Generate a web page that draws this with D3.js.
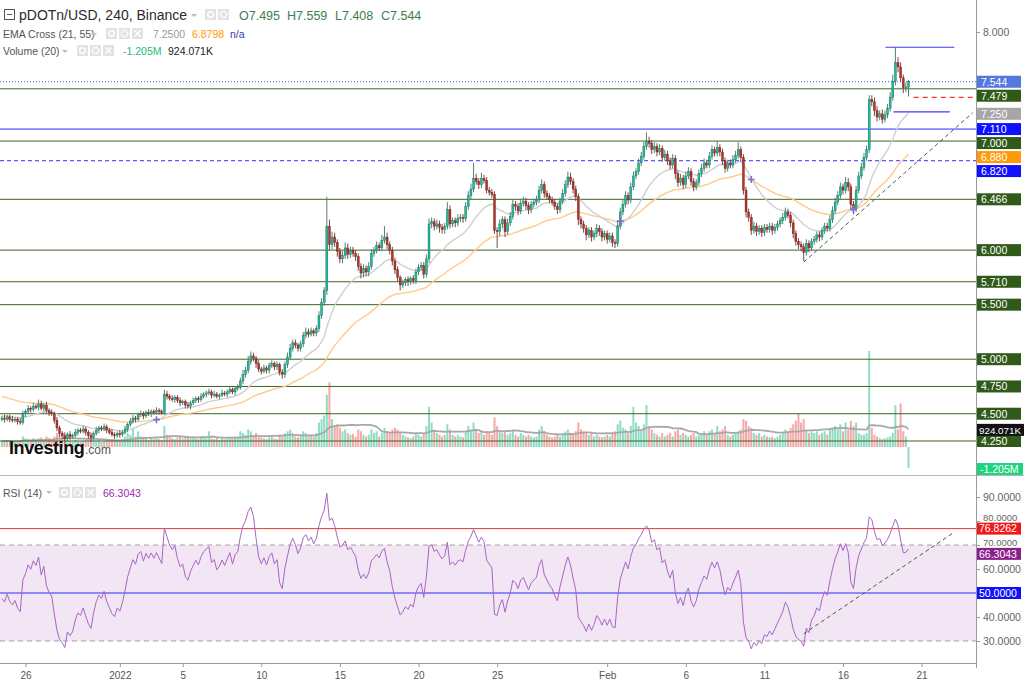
<!DOCTYPE html>
<html><head><meta charset="utf-8">
<script src="https://cdn.jsdelivr.net/npm/d3@7"></script>
<style>
body{margin:0;background:#fff;}
svg{display:block;font-family:"Liberation Sans",Arial,sans-serif;}
</style></head><body>
<svg id="c" width="1024" height="681"></svg>
<script>
// ---------------- DATA (4h candles, pDOTn/USD, Binance) ----------------
const firstCandleUTC = [2021, 11, 24, 12]; // Dec 24 2021 12:00
const firstOpen = 4.45;
const closes = [
4.46,4.45,4.47,4.45,4.44,4.45,4.43,4.42,4.50,4.52,
4.55,4.54,4.57,4.56,4.59,4.55,4.58,4.53,4.51,4.50,
4.44,4.37,4.32,4.30,4.27,4.31,4.29,4.30,4.33,4.35,
4.34,4.36,4.33,4.30,4.28,4.32,4.35,4.37,4.36,4.38,
4.35,4.33,4.31,4.30,4.32,4.31,4.33,4.36,4.40,4.43,
4.46,4.45,4.49,4.50,4.48,4.51,4.50,4.52,4.51,4.53,
4.52,4.51,4.68,4.66,4.64,4.63,4.65,4.62,4.60,4.61,
4.58,4.57,4.60,4.62,4.64,4.63,4.66,4.68,4.69,4.70,
4.67,4.68,4.66,4.67,4.69,4.68,4.70,4.72,4.70,4.73,
4.74,4.80,4.86,4.90,4.98,5.03,5.01,4.96,4.91,4.89,
4.92,4.90,4.94,4.96,4.93,4.95,4.88,4.86,4.95,5.02,
5.10,5.15,5.13,5.10,5.14,5.22,5.25,5.23,5.26,5.24,
5.28,5.40,5.52,5.63,6.22,6.05,6.12,6.07,5.99,5.92,
5.95,6.02,5.96,6.00,5.97,5.94,5.85,5.79,5.83,5.80,
5.85,5.97,6.00,6.04,6.02,6.09,6.12,6.05,6.00,5.90,
5.82,5.75,5.68,5.70,5.73,5.71,5.74,5.72,5.80,5.84,
5.86,5.78,5.92,6.24,6.26,6.22,6.24,6.21,6.19,6.22,
6.37,6.24,6.27,6.25,6.29,6.30,6.29,6.40,6.50,6.56,
6.66,6.63,6.60,6.66,6.64,6.55,6.53,6.51,6.18,6.17,
6.24,6.28,6.17,6.25,6.31,6.42,6.40,6.36,6.43,6.45,
6.41,6.37,6.42,6.44,6.46,6.55,6.60,6.52,6.49,6.46,
6.44,6.40,6.37,6.45,6.52,6.60,6.67,6.63,6.56,6.49,
6.28,6.24,6.20,6.14,6.18,6.12,6.15,6.20,6.17,6.12,
6.15,6.10,6.13,6.07,6.06,6.22,6.35,6.42,6.50,6.46,
6.58,6.68,6.72,6.80,6.86,6.95,7.00,6.98,6.92,6.95,
6.90,6.93,6.85,6.88,6.82,6.78,6.84,6.70,6.62,6.66,
6.60,6.68,6.72,6.63,6.58,6.62,6.70,6.75,6.80,6.78,
6.86,6.92,6.89,6.94,6.90,6.82,6.75,6.80,6.78,6.83,
6.87,6.92,6.85,6.55,6.35,6.30,6.18,6.22,6.17,6.20,
6.16,6.21,6.19,6.22,6.18,6.21,6.24,6.27,6.30,6.35,
6.32,6.25,6.15,6.08,6.05,6.03,5.98,6.06,6.02,6.08,
6.10,6.14,6.12,6.18,6.22,6.20,6.28,6.36,6.44,6.50,
6.58,6.55,6.62,6.58,6.42,6.38,6.55,6.68,6.76,6.85,
6.92,7.38,7.36,7.28,7.22,7.25,7.20,7.24,7.30,7.40,
7.55,7.72,7.68,7.58,7.49,7.495,7.544];
// upper / lower wick length beyond the body, in hundredths
const wickUp = [
2,3,2,2,3,2,2,3,3,2, 3,2,3,2,4,3,2,3,2,3, 2,3,2,2,3,2,3,2,3,2, 2,3,2,2,3,2,3,2,2,3,
2,2,3,2,2,3,2,3,2,3, 3,2,2,3,2,2,3,2,2,3, 2,2,4,3,2,3,2,2,3,2, 2,3,2,3,2,2,3,2,2,3,
2,3,2,2,3,2,2,3,2,2, 3,3,4,3,5,4,3,2,3,2, 3,2,3,3,2,3,2,3,3,4, 4,3,3,2,3,3,4,3,3,2,
3,4,4,3,27,6,5,4,3,3, 4,5,4,3,3,3,3,3,4,3, 4,4,3,4,3,5,10,4,3,3, 3,3,2,3,2,3,2,3,3,3,
3,3,4,5,4,3,4,3,3,3, 7,4,3,3,4,3,3,4,4,5, 14,4,3,5,3,3,3,3,3,3, 4,3,3,4,4,5,3,3,4,4,
3,3,3,3,4,4,5,3,3,3, 3,3,3,3,4,4,5,4,3,3, 3,3,3,3,3,3,3,4,3,3, 3,3,3,3,3,4,4,4,4,3,
4,4,3,4,4,4,8,4,3,4, 3,4,3,4,3,3,4,3,3,4, 3,4,4,3,3,3,4,4,4,3, 4,4,3,6,3,3,3,3,3,4,
4,7,3,3,3,3,3,4,3,3, 3,3,3,3,3,3,3,3,4,4, 3,3,3,3,3,3,3,4,3,3, 3,3,3,3,3,3,4,4,4,4,
4,3,5,4,3,3,4,4,4,4, 4,4,4,4,4,3,4,4,4,5, 6,14,5,4,3,4,1.5];
const wickDown = [
2,3,2,3,2,2,3,2,2,3, 2,3,2,2,3,2,3,2,3,2, 3,3,3,3,4,2,3,2,2,3, 2,2,3,3,4,2,2,3,2,2,
3,2,2,3,2,3,2,2,3,2, 2,3,2,2,3,2,2,3,2,2, 3,2,2,3,2,2,3,2,3,2, 3,2,3,2,2,3,2,2,3,2,
3,2,2,3,2,2,3,2,2,3, 2,2,3,3,3,3,3,4,3,3, 2,3,3,2,3,3,3,4,3,3, 3,3,3,3,3,3,3,3,2,3,
3,3,3,3,4,5,4,4,5,4, 4,3,4,3,3,4,4,5,4,4, 4,3,3,3,3,3,3,4,4,4, 4,4,5,3,3,4,3,3,3,3,
3,4,3,4,4,4,3,5,4,4, 3,4,3,4,3,3,4,3,3,3, 3,3,4,3,3,3,3,3,3,15, 4,4,5,3,3,3,4,4,3,3,
4,4,3,3,3,3,3,4,3,3, 3,3,4,3,3,3,3,3,4,4, 5,4,4,5,3,4,3,3,4,4, 3,4,3,4,4,3,3,3,3,4,
3,3,3,3,3,3,3,4,4,3, 4,3,4,3,4,4,3,5,4,3, 4,3,3,4,4,3,3,3,3,3, 3,3,3,3,4,4,4,3,3,3,
3,3,4,4,5,4,4,3,4,3, 4,3,3,3,4,3,3,3,3,3, 3,4,4,4,4,4,8,3,4,3, 3,3,4,3,3,3,3,3,3,3,
3,4,3,4,5,5,3,3,3,3, 3,3,4,5,4,3,4,3,3,3, 3,4,5,4,5,4,8.7];
// volume per candle, millions
const volumes = [
0.35,0.3,0.4,0.3,0.25,0.3,0.35,0.4,0.6,0.5, 0.45,0.35,0.5,0.4,0.5,0.55,0.4,0.6,0.5,0.45,
0.6,0.8,0.7,0.5,0.55,0.4,0.35,0.3,0.4,0.35, 0.3,0.35,0.4,0.45,0.5,0.4,0.35,0.4,0.3,0.35,
0.4,0.35,0.45,0.4,0.35,0.3,0.45,0.6,0.8,0.7, 1.1,0.6,0.9,0.6,0.5,0.55,0.4,0.5,0.45,0.5,
0.45,0.4,1.2,0.7,0.6,0.5,0.45,0.55,0.6,0.5, 0.6,0.55,0.5,0.6,0.5,0.45,0.55,0.6,0.5,0.9,
0.5,0.45,0.55,0.4,0.5,0.45,0.5,0.55,0.45,0.6, 0.6,0.9,0.8,0.7,1.0,0.9,0.7,0.8,0.6,0.55,
0.5,0.45,0.55,0.6,0.5,0.45,0.7,0.6,0.8,0.9, 1.0,0.8,0.6,0.55,0.7,0.9,0.8,0.6,0.7,0.6,
0.8,1.4,1.6,1.8,3.0,3.7,1.6,1.2,1.3,1.1, 0.9,1.0,0.8,0.7,0.75,0.6,1.0,0.9,0.7,0.6,
0.7,1.0,0.8,0.9,0.6,0.8,1.1,0.9,0.8,1.0, 1.1,1.0,0.8,0.7,0.6,0.55,0.5,0.6,0.8,0.7,
0.6,0.8,1.2,2.3,1.4,1.0,0.8,0.7,0.6,0.7, 1.3,1.0,0.7,0.6,0.7,0.6,0.55,0.9,1.2,1.0,
1.4,1.0,0.8,0.9,0.7,0.9,0.8,0.7,1.7,1.2, 0.9,0.8,0.9,0.7,0.8,1.0,0.7,0.6,0.8,0.7,
0.6,0.7,0.6,0.55,0.6,1.0,1.2,0.9,0.7,0.6, 0.55,0.6,0.7,0.6,0.8,0.9,1.0,0.8,0.7,0.9,
1.4,1.0,0.9,0.8,0.7,0.8,0.6,0.7,0.6,0.55, 0.6,0.7,0.6,0.8,0.9,1.3,1.5,1.1,1.0,0.8,
1.2,2.3,1.4,1.2,1.0,1.3,2.4,1.2,1.0,0.8, 0.7,0.6,0.8,0.6,0.7,0.8,0.6,0.9,1.0,0.7,
0.8,0.7,0.6,0.7,0.8,0.6,0.7,0.8,0.9,0.7, 0.9,1.0,0.8,1.2,0.9,1.0,1.2,0.7,0.6,0.7,
0.8,0.9,1.0,1.6,1.5,1.2,1.1,0.8,0.7,0.8, 0.6,0.7,0.6,0.55,0.6,0.5,0.6,0.7,0.8,1.0,
0.9,1.1,1.3,1.5,1.9,1.4,1.6,1.0,0.8,0.9, 0.8,0.9,0.7,0.8,0.9,0.7,1.0,1.1,1.2,1.0,
1.3,0.9,1.4,1.0,1.5,1.2,1.4,0.8,0.7,0.7, 0.8,5.5,1.1,0.7,0.6,0.5,0.45,0.5,0.55,0.6,
0.8,2.4,1.0,2.5,0.9,0.6,-1.205];
const emaSeed21 = 4.48, emaSeed55 = 4.66;      // indicator values at the first visible candle
const rsiSeedGain = 0.012, rsiSeedLoss = 0.014;
const emaCrossIdx = [59, 236, 286, 325];
const greenLevels = [7.479, 7.000, 6.466, 6.000, 5.710, 5.500, 5.000, 4.750, 4.500, 4.250];
const blueLevel = 7.110, blueDashLevel = 6.820, lastPrice = 7.544;
const priceTicks = [8.0, 7.5, 7.0, 6.5, 6.0, 5.5, 5.0, 4.5];
const rsiTicks = [90, 80, 70, 60, 50, 40, 30];
const rsiUpper = 70, rsiLower = 30, rsiMid = 50, rsiLevelRed = 76.8262, rsiLast = 66.3043;
const ema21Last = 7.25, ema55Last = 6.88, volMaLast = 0.924071, volLast = -1.205;
const xTickDates = [[2021,11,26],[2022,0,1],[2022,0,5],[2022,0,10],[2022,0,15],[2022,0,20],[2022,0,25],[2022,1,1],[2022,1,6],[2022,1,11],[2022,1,16],[2022,1,21]];
const xTickLabels = ["26","2022","5","10","15","20","25","Feb","6","11","16","21"];
// drawn lines: [date(UTC parts), value]
const priceTrend = [[[2022,1,13,12], 5.89], [[2022,1,24,6], 7.26]];
const rsiTrend = [[[2022,1,13,12], 33], [[2022,1,23,0], 75]];
const topLine = [[[2022,1,18,17], 7.86], [[2022,1,23,2], 7.86]];
const midLine = [[[2022,1,19,5], 7.267], [[2022,1,22,19], 7.267]];
const redDash = [[[2022,1,20,12], 7.40], [[2022,1,25,0], 7.40]];

// ---------------- SETUP ----------------
const svg = d3.select("#c");
const R = 976;            // right edge of plot area
const PANE_BOTTOM = 475;
const U = a => new Date(Date.UTC(a[0], a[1], a[2], a[3] || 0));
const n = closes.length;
const t0 = U(firstCandleUTC).getTime();
const bars = d3.range(n).map(i => {
  const o = i === 0 ? firstOpen : closes[i - 1];
  const c = closes[i];
  return {i, date: new Date(t0 + i * 4 * 3600e3), o, c,
    h: Math.max(o, c) + (wickUp[i] || 0) / 100,
    l: Math.min(o, c) - (wickDown[i] || 0) / 100,
    v: volumes[i] || 0, up: c >= o};
});
const x = d3.scaleUtc().domain([U([2021,11,26]), U([2022,1,21])]).range([25.5, 921.6]);
const y = d3.scaleLinear().domain([4.25, 8]).range([441, 32]);
const yv = d3.scaleLinear().domain([0, 5.5]).range([447, 351]);
const yr = d3.scaleLinear().domain([30, 90]).range([641, 497]);

// indicators
let e21 = emaSeed21, e55 = emaSeed55;
const a21 = 2 / 22, a55 = 2 / 56;
bars.forEach((b, i) => {
  if (i > 0) { e21 = a21 * b.c + (1 - a21) * e21; e55 = a55 * b.c + (1 - a55) * e55; }
  b.e21 = e21; b.e55 = e55;
});
let ag = rsiSeedGain, al = rsiSeedLoss;
bars.forEach(b => {
  const ch = b.c - b.o;
  ag = (ag * 13 + Math.max(ch, 0)) / 14; al = (al * 13 + Math.max(-ch, 0)) / 14;
  b.rsi = 100 - 100 / (1 + ag / al);
});
bars.forEach((b, i) => { b.vma = d3.mean(bars.slice(Math.max(0, i - 19), i + 1), d => d.v); });

const defs = svg.append("defs");
defs.append("clipPath").attr("id", "mainClip").append("rect").attr("x", 0).attr("y", 0).attr("width", R).attr("height", PANE_BOTTOM);
defs.append("clipPath").attr("id", "rsiClip").append("rect").attr("x", 0).attr("y", PANE_BOTTOM + 1).attr("width", R).attr("height", 663 - PANE_BOTTOM - 1);
defs.append("clipPath").attr("id", "volLblClip").append("rect").attr("x", R).attr("y", 0).attr("width", 60).attr("height", PANE_BOTTOM);

// ---------------- MAIN PANE ----------------
const main = svg.append("g").attr("clip-path", "url(#mainClip)");
// volume
main.append("g").selectAll("rect").data(bars).join("rect")
  .attr("x", d => x(d.date) - 1).attr("width", 2)
  .attr("y", d => Math.min(yv(d.v), yv(0))).attr("height", d => Math.abs(yv(d.v) - yv(0)))
  .attr("fill", d => d.up ? "#8fdcc2" : "#f5a8a8");
main.append("path").datum(bars)
  .attr("d", d3.line().x(d => x(d.date)).y(d => yv(d.vma)))
  .attr("fill", "none").attr("stroke", "#a8a8a8").attr("stroke-width", 1.8);
// levels
main.append("g").selectAll("line").data(greenLevels).join("line")
  .attr("x1", 0).attr("x2", R).attr("y1", d => y(d)).attr("y2", d => y(d))
  .attr("stroke", "#3b6325").attr("stroke-width", 1);
main.append("line").attr("x1", 0).attr("x2", R).attr("y1", y(blueLevel)).attr("y2", y(blueLevel))
  .attr("stroke", "#2b2bff").attr("stroke-width", 1);
main.append("line").attr("x1", 0).attr("x2", R).attr("y1", y(blueDashLevel)).attr("y2", y(blueDashLevel))
  .attr("stroke", "#5a5aff").attr("stroke-width", 1.2).attr("stroke-dasharray", "4,3");
main.append("line").attr("x1", 0).attr("x2", R).attr("y1", y(lastPrice)).attr("y2", y(lastPrice))
  .attr("stroke", "#3a55b0").attr("stroke-width", 1).attr("stroke-dasharray", "1,2");
// EMAs
main.append("path").datum(bars).attr("d", d3.line().x(d => x(d.date)).y(d => y(d.e55)))
  .attr("fill", "none").attr("stroke", "#ffc98a").attr("stroke-width", 1.4);
main.append("path").datum(bars).attr("d", d3.line().x(d => x(d.date)).y(d => y(d.e21)))
  .attr("fill", "none").attr("stroke", "#cfcfcf").attr("stroke-width", 1.4);
// candles
const cg = main.append("g");
cg.selectAll("line").data(bars).join("line")
  .attr("x1", d => x(d.date)).attr("x2", d => x(d.date))
  .attr("y1", d => y(d.h)).attr("y2", d => y(d.l))
  .attr("stroke", d => d.up ? "#56806f" : "#7a4a44").attr("stroke-width", 1);
cg.selectAll("rect").data(bars).join("rect")
  .attr("x", d => x(d.date) - 1).attr("width", 2)
  .attr("y", d => y(Math.max(d.o, d.c)))
  .attr("height", d => Math.max(1, Math.abs(y(d.o) - y(d.c))))
  .attr("fill", d => d.up ? "#22b89c" : "#b3332c")
  .attr("stroke", d => d.up ? "#1d6b58" : "#6e2420").attr("stroke-width", 0.4);
// cross markers
main.append("g").selectAll("path").data(emaCrossIdx.map(i => bars[i])).join("path")
  .attr("d", d => { const cx = x(d.date), cy = y(d.e55); return `M${cx-3.5},${cy}H${cx+3.5}M${cx},${cy-3.5}V${cy+3.5}`; })
  .attr("stroke", "#7b6fd6").attr("stroke-width", 1.6);
// drawn lines
const seg = (g, pts, yy) => g.append("line")
  .attr("x1", x(U(pts[0][0]))).attr("y1", yy(pts[0][1])).attr("x2", x(U(pts[1][0]))).attr("y2", yy(pts[1][1]));
seg(main, priceTrend, y).attr("stroke", "#555").attr("stroke-width", 1).attr("stroke-dasharray", "4,3");
seg(main, topLine, y).attr("stroke", "#3a3aff").attr("stroke-width", 1.2);
seg(main, midLine, y).attr("stroke", "#3a3aff").attr("stroke-width", 1.2);
seg(main, redDash, y).attr("stroke", "#ff3030").attr("stroke-width", 1.2).attr("stroke-dasharray", "5,4");

// Investing.com logo
svg.append("text").attr("x", 9).attr("y", 454).attr("font-size", 18).attr("font-weight", "bold")
  .attr("fill", "#111").attr("letter-spacing", -0.4).text("Investing");
svg.append("text").attr("x", 85).attr("y", 454).attr("font-size", 12).attr("fill", "#555").text(".com");

// ---------------- RSI PANE ----------------
const rp = svg.append("g").attr("clip-path", "url(#rsiClip)");
rp.append("rect").attr("x", 0).attr("width", R).attr("y", yr(rsiUpper)).attr("height", yr(rsiLower) - yr(rsiUpper))
  .attr("fill", "#f2e6f5");
[rsiUpper, rsiLower].forEach(v => rp.append("line").attr("x1", 0).attr("x2", R).attr("y1", yr(v)).attr("y2", yr(v))
  .attr("stroke", "#a0a0a0").attr("stroke-dasharray", "5,4"));
rp.append("line").attr("x1", 0).attr("x2", R).attr("y1", yr(rsiMid)).attr("y2", yr(rsiMid)).attr("stroke", "#2b2bff");
rp.append("line").attr("x1", 0).attr("x2", R).attr("y1", yr(rsiLevelRed)).attr("y2", yr(rsiLevelRed)).attr("stroke", "#e53935");
rp.append("path").datum(bars).attr("d", d3.line().x(d => x(d.date)).y(d => yr(d.rsi)))
  .attr("fill", "none").attr("stroke", "#a865c4").attr("stroke-width", 1);
seg(rp, rsiTrend, yr).attr("stroke", "#555").attr("stroke-width", 1).attr("stroke-dasharray", "4,3");

// ---------------- FRAME / AXES ----------------
svg.append("line").attr("x1", 0).attr("x2", 1024).attr("y1", PANE_BOTTOM + 0.5).attr("y2", PANE_BOTTOM + 0.5).attr("stroke", "#b8b8b8");
svg.append("line").attr("x1", 0).attr("x2", R).attr("y1", 663.5).attr("y2", 663.5).attr("stroke", "#9a9a9a");
svg.append("line").attr("x1", R + 0.5).attr("x2", R + 0.5).attr("y1", 0).attr("y2", 668).attr("stroke", "#9a9a9a");

// value tags (main pane), laid out so they do not overlap, like the platform does
const TAG_H = 12, TAG_GAP = 14;
const mainTags = [
  ...greenLevels.map(v => ({v, txt: d3.format(".3f")(v), bg: "#2f5a1a"})),
  {v: blueDashLevel, txt: "6.820", bg: "#1010ff"},
  {v: ema55Last, txt: "6.880", bg: "#ff9a0a"},
  {v: blueLevel, txt: "7.110", bg: "#1010ff"},
  {v: ema21Last, txt: "7.250", bg: "#a6a6a6"},
  {v: lastPrice, txt: "7.544", bg: "#5577e0"}
].map(t => ({...t, y: y(t.v)})).sort((a, b) => a.y - b.y);
for (let k = 1; k < mainTags.length; k++) {
  if (mainTags[k].y < mainTags[k - 1].y + TAG_GAP) mainTags[k].y = mainTags[k - 1].y + TAG_GAP;
}
const rsiTags = [
  {y: yr(rsiLevelRed), txt: rsiLevelRed.toFixed(4), bg: "#f01818"},
  {y: yr(rsiLast), txt: rsiLast.toFixed(4), bg: "#8a1f8a"},
  {y: yr(rsiMid), txt: rsiMid.toFixed(4), bg: "#1010ff"}
];

// axis ticks; tick texts hidden where a value tag sits on them
const yAxis = d3.axisRight(y).tickValues(priceTicks).tickSize(4).tickFormat(d3.format(".3f"));
const ya = svg.append("g").attr("transform", `translate(${R},0)`).call(yAxis);
ya.selectAll(".tick text").filter(d => mainTags.some(t => Math.abs(t.y - y(d)) < 10)).remove();
const ra = svg.append("g").attr("transform", `translate(${R},0)`).call(d3.axisRight(yr).tickValues(rsiTicks).tickSize(4).tickFormat(d3.format(".4f")));
ra.selectAll(".tick text").filter(d => rsiTags.some(t => Math.abs(t.y - yr(d)) < 5)).remove();
[ya, ra].forEach(g => {
  g.select(".domain").remove();
  g.selectAll("line").attr("stroke", "#999");
  g.selectAll("text").attr("font-size", 10.5).attr("fill", "#666").attr("font-family", "Liberation Sans, Arial, sans-serif");
});
// RSI tick texts that sit just above a tag are lifted a little so they stay readable
ra.selectAll(".tick text").each(function (d) {
  const t = rsiTags.find(t => t.y - yr(d) > 0 && t.y - yr(d) < 14);
  if (t) {
    const base = t.y - TAG_H / 2 - 2.5 - yr(d);   // baseline just above the tag
    d3.select(this).attr("dy", null).attr("y", base).attr("font-size", 9.5);
  }
});
const xa = svg.append("g").attr("transform", "translate(0,663)")
  .call(d3.axisBottom(x).tickValues(xTickDates.map(U)).tickSize(4).tickFormat((d, i) => xTickLabels[i]));
xa.select(".domain").remove();
xa.selectAll("line").attr("stroke", "#999");
xa.selectAll("text").attr("font-size", 10).attr("fill", "#555").attr("dy", "0.9em")
  .attr("font-family", "Liberation Sans Narrow, Liberation Sans, Arial, sans-serif");

function tag(parent, yy, txt, bg, fg, w, fs, tx) {
  parent.append("rect").attr("x", R + 1).attr("y", yy - TAG_H / 2).attr("width", w || 44).attr("height", TAG_H).attr("fill", bg);
  parent.append("text").attr("x", R + (tx || 5)).attr("y", yy + 3.8).attr("font-size", fs || 10.5).attr("fill", fg || "#fff").text(txt);
}
mainTags.forEach(t => tag(svg, t.y, t.txt, t.bg));
rsiTags.forEach(t => tag(svg, t.y, t.txt, t.bg, "#fff", 44, 10.5, 3));
tag(svg, yv(volMaLast) - 1, "924.071K", "#111", "#fff", 47, 9.8, 3);
const vl = svg.append("g").attr("clip-path", "url(#volLblClip)");
tag(vl, 469, "-1.205M", "#1ed47e", "#fff", 46, 10.5, 4);

// ---------------- LEGENDS ----------------
function icons(x0, yTop, count) {
  for (let k = 0; k < count; k++) {
    const gx = x0 + k * 13;
    svg.append("rect").attr("x", gx).attr("y", yTop).attr("width", 11).attr("height", 11).attr("fill", "#e2e2e2");
    const cx = gx + 5.5, cy = yTop + 5.5;
    if (k === 0) svg.append("circle").attr("cx", cx).attr("cy", cy).attr("r", 2.8).attr("fill", "none").attr("stroke", "#fff").attr("stroke-width", 1.4);
    else if (k === 1) svg.append("circle").attr("cx", cx).attr("cy", cy).attr("r", 3.2).attr("fill", "none").attr("stroke", "#fff").attr("stroke-width", 2).attr("stroke-dasharray", "1.6,0.9");
    else svg.append("path").attr("d", `M${cx-3},${cy-3}L${cx+3},${cy+3}M${cx+3},${cy-3}L${cx-3},${cy+3}`).attr("stroke", "#fff").attr("stroke-width", 1.4);
  }
}
function arrow(xx, yy) {
  svg.append("path").attr("d", `M${xx},${yy}l6,0l-3,3z`).attr("fill", "#bbb");
}
// row 1
svg.append("rect").attr("x", 4.5).attr("y", 9.5).attr("width", 10).attr("height", 10).attr("fill", "none").attr("stroke", "#555");
svg.append("line").attr("x1", 7).attr("x2", 12).attr("y1", 14.5).attr("y2", 14.5).attr("stroke", "#555");
svg.append("text").attr("x", 19).attr("y", 20).attr("font-size", 14).attr("fill", "#2b2b2b").text("pDOTn/USD, 240, Binance");
arrow(191, 14);
icons(205, 9, 2);
const ohlc = [["O", "7.495", 239], ["H", "7.559", 287], ["L", "7.408", 335], ["C", "7.544", 381]];
ohlc.forEach(([k, v, xx]) => svg.append("text").attr("x", xx).attr("y", 20).attr("font-size", 12.5).attr("fill", "#3e7d4f").text(k + v));
// row 2
svg.append("text").attr("x", 3).attr("y", 38).attr("font-size", 10.5).attr("fill", "#555").text("EMA Cross (21, 55)");
arrow(91, 33);
icons(106, 28, 3);
svg.append("text").attr("x", 153).attr("y", 38).attr("font-size", 10.5).attr("fill", "#9a9a9a").text("7.2500");
svg.append("text").attr("x", 192).attr("y", 38).attr("font-size", 10.5).attr("fill", "#ff9800").text("6.8798");
svg.append("text").attr("x", 230).attr("y", 38).attr("font-size", 10.5).attr("fill", "#3838b0").text("n/a");
// row 3
svg.append("text").attr("x", 3).attr("y", 55).attr("font-size", 10.5).attr("fill", "#555").text("Volume (20)");
arrow(62, 50);
icons(77, 45, 3);
svg.append("text").attr("x", 123).attr("y", 55).attr("font-size", 10.5).attr("fill", "#20c07a").text("-1.205M");
svg.append("text").attr("x", 168).attr("y", 55).attr("font-size", 10.5).attr("fill", "#222").text("924.071K");
// RSI legend
svg.append("text").attr("x", 3).attr("y", 497).attr("font-size", 10.5).attr("fill", "#555").text("RSI (14)");
arrow(46, 491);
icons(59, 487, 3);
svg.append("text").attr("x", 103).attr("y", 497).attr("font-size", 10.5).attr("fill", "#9c27b0").text("66.3043");
</script>
</body></html>
